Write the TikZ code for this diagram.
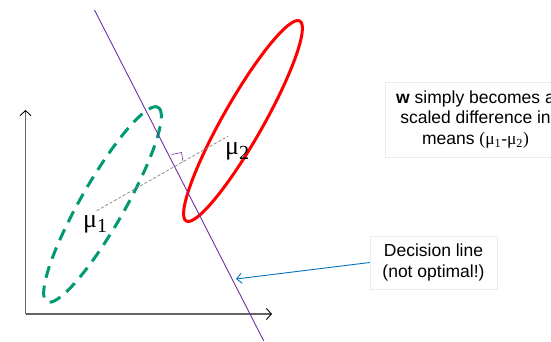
\documentclass[tikz,border=0pt]{standalone}
\usepackage{fontspec}
\setmainfont{Liberation Sans}
\newfontfamily\serif{Liberation Serif}
\usetikzlibrary{arrows.meta}
\definecolor{grn}{RGB}{0,153,115}
\definecolor{purp}{RGB}{112,48,160}
\definecolor{blu}{RGB}{0,112,192}
\definecolor{axisgray}{RGB}{100,100,100}
\definecolor{boxgray}{RGB}{232,236,240}
\begin{document}
\begin{tikzpicture}[x=1pt,y=-1pt,
  axisline/.style={draw=axisgray,line width=1.4pt,-{Straight Barb[length=5pt,width=11pt,line width=0.9pt,color=black]}},
  txtbox/.style={draw=boxgray,line width=0.6pt,align=center,inner sep=0pt,
    font=\fontsize{17.5}{20.5}\selectfont},
  mulabel/.style={anchor=base west,inner sep=0pt,font=\serif\fontsize{26}{26}\selectfont},
  meanline/.style={draw=gray,line width=0.7pt,dash pattern=on 3pt off 2pt}]
\useasboundingbox (0,0) rectangle (551,341);
\clip (0,0) rectangle (551,341);

% axes
\coordinate (O) at (25.5,314);
\coordinate (ytip) at (25.5,110);
\coordinate (xtip) at (272,314);
\draw[axisline] (O) -- (ytip);
\draw[axisline] (O) -- (xtip);

% class ellipses
\draw[grn,line width=3pt,dash pattern=on 12pt off 8pt,rotate around={60.2:(102.5,204.5)}]
  (102.5,204.5) ellipse [x radius=112,y radius=22];
\draw[red,line width=3pt,rotate around={60.4:(243,121)}]
  (243,121) ellipse [x radius=115,y radius=20];

% means and connecting line
\coordinate (m1) at (96.7,210.7);
\coordinate (m2) at (228.3,136);
\draw[meanline] (m1) -- (m2);

% decision line
\coordinate (dtop) at (94.5,10);
\coordinate (dbot) at (263.8,341);
\draw[purp,line width=0.9pt] (dtop) -- (dbot);

% right-angle mark
\coordinate (ra1) at (171.5,154.5);
\coordinate (ra2) at (181.5,152.5);
\coordinate (ra3) at (183,161.5);
\draw[purp,line width=0.6pt] (ra1) -- (ra2) -- (ra3);

% labels
\node[mulabel] (mu1) at (83,227) {μ\raisebox{-5pt}{\fontsize{20}{20}\selectfont 1}};
\node[mulabel] (mu2) at (225,154) {μ\raisebox{-5pt}{\fontsize{20}{20}\selectfont 2}};

% text boxes
\node[txtbox,minimum width=181,minimum height=75] (wbox) at (475.5,119.5)
  {\textbf{w} simply becomes a\\scaled difference in\\means {\serif(μ\textsubscript{1}-μ\textsubscript{2})}};
\node[txtbox,minimum width=127,minimum height=53] (dec) at (433.5,262.5)
  {Decision line\\(not optimal!)};

\coordinate (arrtip) at (236,279);
\draw[blu,line width=0.9pt,-{Straight Barb[length=5pt,width=10pt]}] (dec.west) -- (arrtip);
\end{tikzpicture}
\end{document}
